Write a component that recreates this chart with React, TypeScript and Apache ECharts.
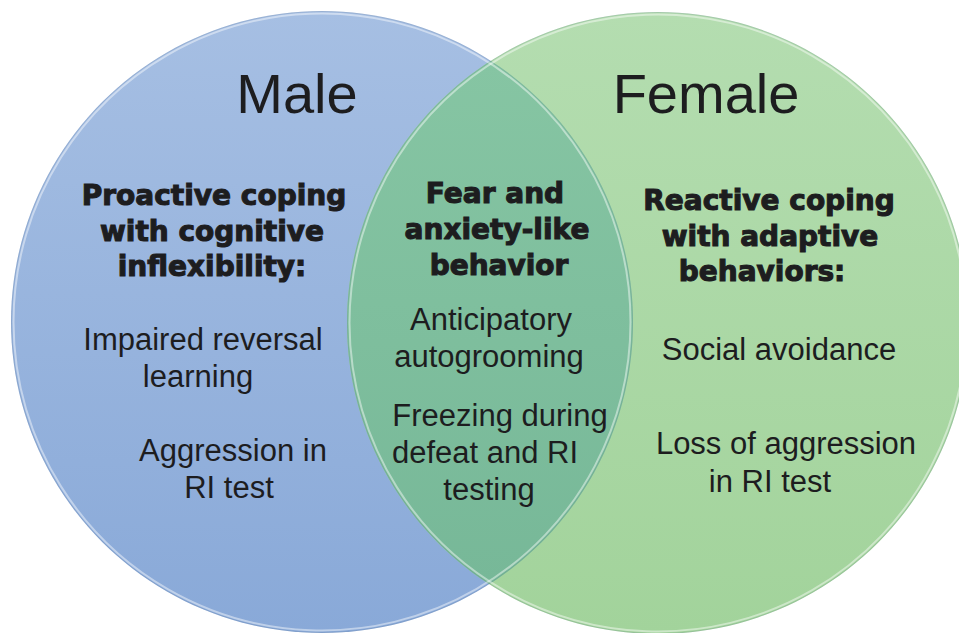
import React, { useEffect, useRef } from "react";
import * as echarts from "echarts";

// Circle geometry in a 959 x 633 coordinate space (y grows downward)
const circleNames = ["Male", "Female"];
const circleCenterX = [322, 658];
const circleCenterY = [322, 323];
const circleRadius = [311, 311];

// Texts
const titles = ["Male", "Female"];
const maleHeading = ["Proactive coping", "with cognitive", "inflexibility:"];
const sharedHeading = ["Fear and", "anxiety-like", "behavior"];
const femaleHeading = ["Reactive coping", "with adaptive", "behaviors:"];
const maleItems = ["Impaired reversal", "learning", "Aggression in", "RI test"];
const sharedItems = ["Anticipatory", "autogrooming", "Freezing during", "defeat and RI", "testing"];
const femaleItems = ["Social avoidance", "Loss of aggression", "in RI test"];

// Layout (positions of each text line)
const titlePos = [[297, 93], [706, 93]];
const maleHeadingPos = [[214, 195], [212, 231], [212, 266]];
const sharedHeadingPos = [[495, 193], [497, 229], [499, 265]];
const femaleHeadingPos = [[769, 200], [770, 236], [762, 271]];
const maleItemsPos = [[203, 339], [198, 376], [233, 450], [229, 487]];
const sharedItemsPos = [[491, 319], [489, 356], [500, 415], [485, 452], [489, 489]];
const femaleItemsPos = [[779, 349], [786, 443], [770, 481]];

const TEXT_COLOR = "#1d1d1f";

export default function App() {
  const ref = useRef<HTMLDivElement>(null);

  useEffect(() => {
    document.body.style.margin = "0";
    if (!ref.current) return;
    const chart = echarts.init(ref.current, null, { renderer: "svg" });

    const fills = [
      new echarts.graphic.LinearGradient(0, 0, 0, 1, [
        { offset: 0, color: "#a6bfe3" },
        { offset: 1, color: "#89a9d8" },
      ]),
      new echarts.graphic.LinearGradient(0, 0, 0, 1, [
        { offset: 0, color: "#b4ddb0" },
        { offset: 1, color: "#a2d39b" },
      ]),
    ];
    const lensFill = new echarts.graphic.LinearGradient(0, 0, 0, 1, [
      { offset: 0, color: "#86c5a3" },
      { offset: 1, color: "#77b898" },
    ]);

    const circleData = circleNames.map((n, i) => ({
      name: n,
      value: [circleCenterX[i], circleCenterY[i], circleRadius[i]],
    }));

    const renderCircle = (params: any, api: any) => {
      const c = api.coord([api.value(0), api.value(1)]);
      const r = api.size([api.value(2), 0])[0];
      return {
        type: "circle",
        shape: { cx: c[0], cy: c[1], r },
        style: { fill: fills[params.dataIndex] },
      };
    };

    const renderRim = (_params: any, api: any) => {
      const c = api.coord([api.value(0), api.value(1)]);
      const r = api.size([api.value(2), 0])[0];
      return {
        type: "group",
        children: [
          {
            type: "circle",
            shape: { cx: c[0], cy: c[1], r: r - 2.5 },
            style: { fill: "none", stroke: "rgba(255,255,255,0.45)", lineWidth: 2 },
          },
          {
            type: "circle",
            shape: { cx: c[0], cy: c[1], r: r - 0.5 },
            style: { fill: "none", stroke: "rgba(90,110,140,0.18)", lineWidth: 1 },
          },
        ],
      };
    };

    const renderLens = (_params: any, api: any) => {
      const [x1, x2] = circleCenterX;
      const [y1, y2] = circleCenterY;
      const [r1, r2] = circleRadius;
      const dx = x2 - x1;
      const dy = y2 - y1;
      const d = Math.sqrt(dx * dx + dy * dy);
      const a = (r1 * r1 - r2 * r2 + d * d) / (2 * d);
      const h = Math.sqrt(Math.max(r1 * r1 - a * a, 0));
      const mx = x1 + (a * dx) / d;
      const my = y1 + (a * dy) / d;
      const pTop = [mx + (h * dy) / d, my - (h * dx) / d];
      const pBot = [mx - (h * dy) / d, my + (h * dx) / d];
      const top = pTop[1] < pBot[1] ? pTop : pBot;
      const bot = pTop[1] < pBot[1] ? pBot : pTop;
      const pts: number[][] = [];
      const N = 120;
      const a1 = Math.atan2(top[1] - y1, top[0] - x1);
      const a2 = Math.atan2(bot[1] - y1, bot[0] - x1);
      for (let k = 0; k <= N; k++) {
        const t = a1 + ((a2 - a1) * k) / N;
        pts.push(api.coord([x1 + r1 * Math.cos(t), y1 + r1 * Math.sin(t)]));
      }
      const b1 = Math.atan2(bot[1] - y2, bot[0] - x2);
      let b2 = Math.atan2(top[1] - y2, top[0] - x2);
      if (b2 < b1) b2 += Math.PI * 2;
      for (let k = 0; k <= N; k++) {
        const t = b1 + ((b2 - b1) * k) / N;
        pts.push(api.coord([x2 + r2 * Math.cos(t), y2 + r2 * Math.sin(t)]));
      }
      return {
        type: "polygon",
        shape: { points: pts },
        style: { fill: lensFill },
      };
    };

    const texts: any[] = [];
    const addLines = (lines: string[], pos: number[][], opts: any) => {
      lines.forEach((s, i) => {
        texts.push({
          type: "text",
          x: pos[i][0],
          y: pos[i][1],
          z: 100,
          style: {
            text: s,
            align: "center",
            verticalAlign: "middle",
            fill: TEXT_COLOR,
            ...opts,
          },
        });
      });
    };
    const regular = { fontFamily: "'Liberation Sans', Arial, sans-serif", fontSize: 31 };
    const bold = {
      fontFamily: "'DejaVu Sans', sans-serif",
      fontSize: 28,
      fontWeight: "bold",
      stroke: TEXT_COLOR,
      lineWidth: 1.1,
    };
    addLines(titles, titlePos, { fontFamily: "'Liberation Sans', Arial, sans-serif", fontSize: 56 });
    addLines(maleHeading, maleHeadingPos, bold);
    addLines(sharedHeading, sharedHeadingPos, bold);
    addLines(femaleHeading, femaleHeadingPos, bold);
    addLines(maleItems, maleItemsPos, regular);
    addLines(sharedItems, sharedItemsPos, regular);
    addLines(femaleItems, femaleItemsPos, regular);

    chart.setOption({
      animation: false,
      backgroundColor: "#ffffff",
      grid: { left: 0, right: 0, top: 0, bottom: 0 },
      xAxis: { type: "value", min: 0, max: 959, show: false },
      yAxis: { type: "value", min: 0, max: 633, inverse: true, show: false },
      series: [
        { type: "custom", name: "circles", renderItem: renderCircle, data: circleData, silent: true },
        { type: "custom", name: "overlap", renderItem: renderLens, data: [[0]], silent: true },
        { type: "custom", name: "rims", renderItem: renderRim, data: circleData, silent: true },
      ],
      graphic: { elements: texts },
    });

    return () => chart.dispose();
  }, []);

  return <div ref={ref} style={{ width: 959, height: 633 }} />;
}
